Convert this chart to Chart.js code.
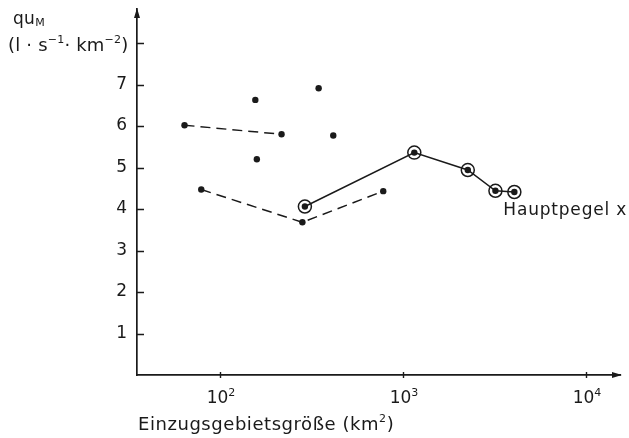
<!DOCTYPE html>
<html>
<head>
<meta charset="utf-8">
<script src="https://cdn.jsdelivr.net/npm/chart.js@4.4.1/dist/chart.umd.min.js"></script>
<style>
  html, body { margin: 0; padding: 0; background: #fff; }
</style>
</head>
<body>
<canvas id="chart" width="629" height="438"></canvas>
<script>
// Einzugsgebietsgröße (km²) und mittlere Abflussspende quM
const upperArea = [64, 217];
const upperQ = [6.02, 5.80];

const lowerArea = [79, 282, 780];
const lowerQ = [4.47, 3.68, 4.43];

// Hauptpegel (eingekreist, durchgezogene Linie)
const mainArea = [291, 1153, 2260, 3200, 4060];
const mainQ = [4.06, 5.36, 4.94, 4.44, 4.41];

// Einzelpunkte ohne Verbindung
const singleArea = [156, 346, 416, 159];
const singleQ = [6.63, 6.91, 5.77, 5.20];

const xTickValues = [100, 1000, 10000];
const xTickBase = '10';
const xTickExponents = ['2', '3', '4'];
const yTickValues = [1, 2, 3, 4, 5, 6, 7, 8];
const yTickLabels = ['1', '2', '3', '4', '5', '6', '7', ''];

const xTitle = 'Einzugsgebietsgröße (km';
const mainLabel = 'Hauptpegel x';

const ink = '#1a1a1a';
const fontFamily = '"DejaVu Sans", "Liberation Sans", Arial, sans-serif';

function toPoints(xs, ys) {
  return xs.map((v, i) => ({ x: v, y: ys[i] }));
}

// Textläufe mit Hoch-/Tiefstellung, gibt die Breite zurück
function drawRuns(ctx, x, y, runs, spacing, measureOnly) {
  let w = 0;
  runs.forEach(r => {
    ctx.font = r.size + 'px ' + fontFamily;
    ctx.letterSpacing = (r.sp != null ? r.sp : spacing) + 'px';
    if (!measureOnly) ctx.fillText(r.t, x + w, y + (r.dy || 0));
    w += ctx.measureText(r.t).width;
  });
  ctx.letterSpacing = '0px';
  return w;
}

const decor = {
  id: 'decor',
  afterDraw(chart) {
    const { ctx, chartArea: a, scales: { x, y } } = chart;
    ctx.save();
    ctx.strokeStyle = ink;
    ctx.fillStyle = ink;
    ctx.lineWidth = 1.4;

    // Teilstriche nach innen
    ctx.beginPath();
    yTickValues.forEach(v => {
      const py = Math.round(y.getPixelForValue(v)) + 0.5;
      ctx.moveTo(a.left, py);
      ctx.lineTo(a.left + 7, py);
    });
    xTickValues.forEach(v => {
      const px = Math.round(x.getPixelForValue(v)) + 0.5;
      ctx.moveTo(px, a.bottom - 3);
      ctx.lineTo(px, a.bottom + 3);
    });
    ctx.stroke();

    // Pfeilspitzen
    ctx.beginPath();
    ctx.moveTo(a.left, a.top - 1);
    ctx.lineTo(a.left - 3, a.top + 9);
    ctx.lineTo(a.left + 3, a.top + 9);
    ctx.closePath();
    ctx.moveTo(a.right + 2, a.bottom);
    ctx.lineTo(a.right - 8, a.bottom - 3);
    ctx.lineTo(a.right - 8, a.bottom + 3);
    ctx.closePath();
    ctx.fill();

    ctx.textBaseline = 'alphabetic';
    ctx.textAlign = 'left';

    // x-Beschriftung 10^n
    xTickValues.forEach((v, i) => {
      const runs = [
        { t: xTickBase, size: 17 },
        { t: xTickExponents[i], size: 11, dy: -7 }
      ];
      const w = drawRuns(ctx, 0, 0, runs, 0, true);
      const px = x.getPixelForValue(v);
      drawRuns(ctx, px - w / 2 + 1, a.bottom + 28, runs, 0);
    });

    // x-Achsentitel
    drawRuns(ctx, a.left + 1, a.bottom + 55, [
      { t: xTitle, size: 18 },
      { t: '2', size: 11, dy: -8 },
      { t: ')', size: 18 }
    ], 0.55);

    // y-Achsentitel
    drawRuns(ctx, 13, 24, [
      { t: 'qu', size: 17 },
      { t: 'M', size: 11, dy: 2 }
    ], 0.3);
    drawRuns(ctx, 8, 51, [
      { t: '(l · s', size: 18 },
      { t: '−1', size: 11, dy: -8 },
      { t: '· km', size: 18 },
      { t: '−2', size: 11, dy: -8 },
      { t: ')', size: 18 }
    ], 0.2);

    // Beschriftung Hauptpegel
    const lx = x.getPixelForValue(mainArea[mainArea.length - 1]);
    const ly = y.getPixelForValue(mainQ[mainQ.length - 1]);
    drawRuns(ctx, lx - 11, ly + 23, [{ t: mainLabel, size: 17 }], 0.8);

    ctx.restore();
  }
};

const dotStyle = {
  pointRadius: 3.2,
  pointBackgroundColor: ink,
  pointBorderColor: ink,
  pointBorderWidth: 0,
  borderColor: ink,
  borderWidth: 1.5,
  tension: 0
};

new Chart(document.getElementById('chart'), {
  type: 'scatter',
  data: {
    datasets: [
      Object.assign({ data: toPoints(upperArea, upperQ), showLine: true, borderDash: [10, 6] }, dotStyle),
      Object.assign({ data: toPoints(lowerArea, lowerQ), showLine: true, borderDash: [10, 6] }, dotStyle),
      Object.assign({ data: toPoints(mainArea, mainQ), showLine: true }, dotStyle),
      {
        data: toPoints(mainArea, mainQ),
        showLine: false,
        pointRadius: 6.5,
        pointBorderWidth: 1.5,
        pointBorderColor: ink,
        pointBackgroundColor: 'rgba(0,0,0,0)'
      },
      Object.assign({ data: toPoints(singleArea, singleQ), showLine: false }, dotStyle)
    ]
  },
  options: {
    responsive: false,
    animation: false,
    devicePixelRatio: 1,
    layout: { padding: { top: 9, right: 9, left: 0, bottom: 0 } },
    plugins: { legend: { display: false }, tooltip: { enabled: false } },
    scales: {
      x: {
        type: 'logarithmic',
        min: 35.2,
        max: 15340,
        bounds: 'data',
        afterBuildTicks: s => { s.ticks = xTickValues.map(v => ({ value: v })); },
        afterFit: s => { s.height = 63; s.paddingLeft = 0; s.paddingRight = 0; },
        grid: { display: true, drawOnChartArea: false, drawTicks: false },
        border: { display: true, color: ink, width: 1.7 },
        ticks: { display: false }
      },
      y: {
        type: 'linear',
        min: 0,
        max: 8.82,
        afterBuildTicks: s => { s.ticks = yTickValues.map(v => ({ value: v })); },
        afterFit: s => { s.width = 137; s.paddingTop = 0; s.paddingBottom = 0; },
        grid: { display: true, drawOnChartArea: false, drawTicks: false },
        border: { display: true, color: ink, width: 1.7 },
        ticks: {
          padding: 10,
          color: ink,
          font: { family: fontFamily, size: 17 },
          callback: (v) => yTickLabels[yTickValues.indexOf(v)] ?? ''
        }
      }
    }
  },
  plugins: [decor]
});
</script>
</body>
</html>
